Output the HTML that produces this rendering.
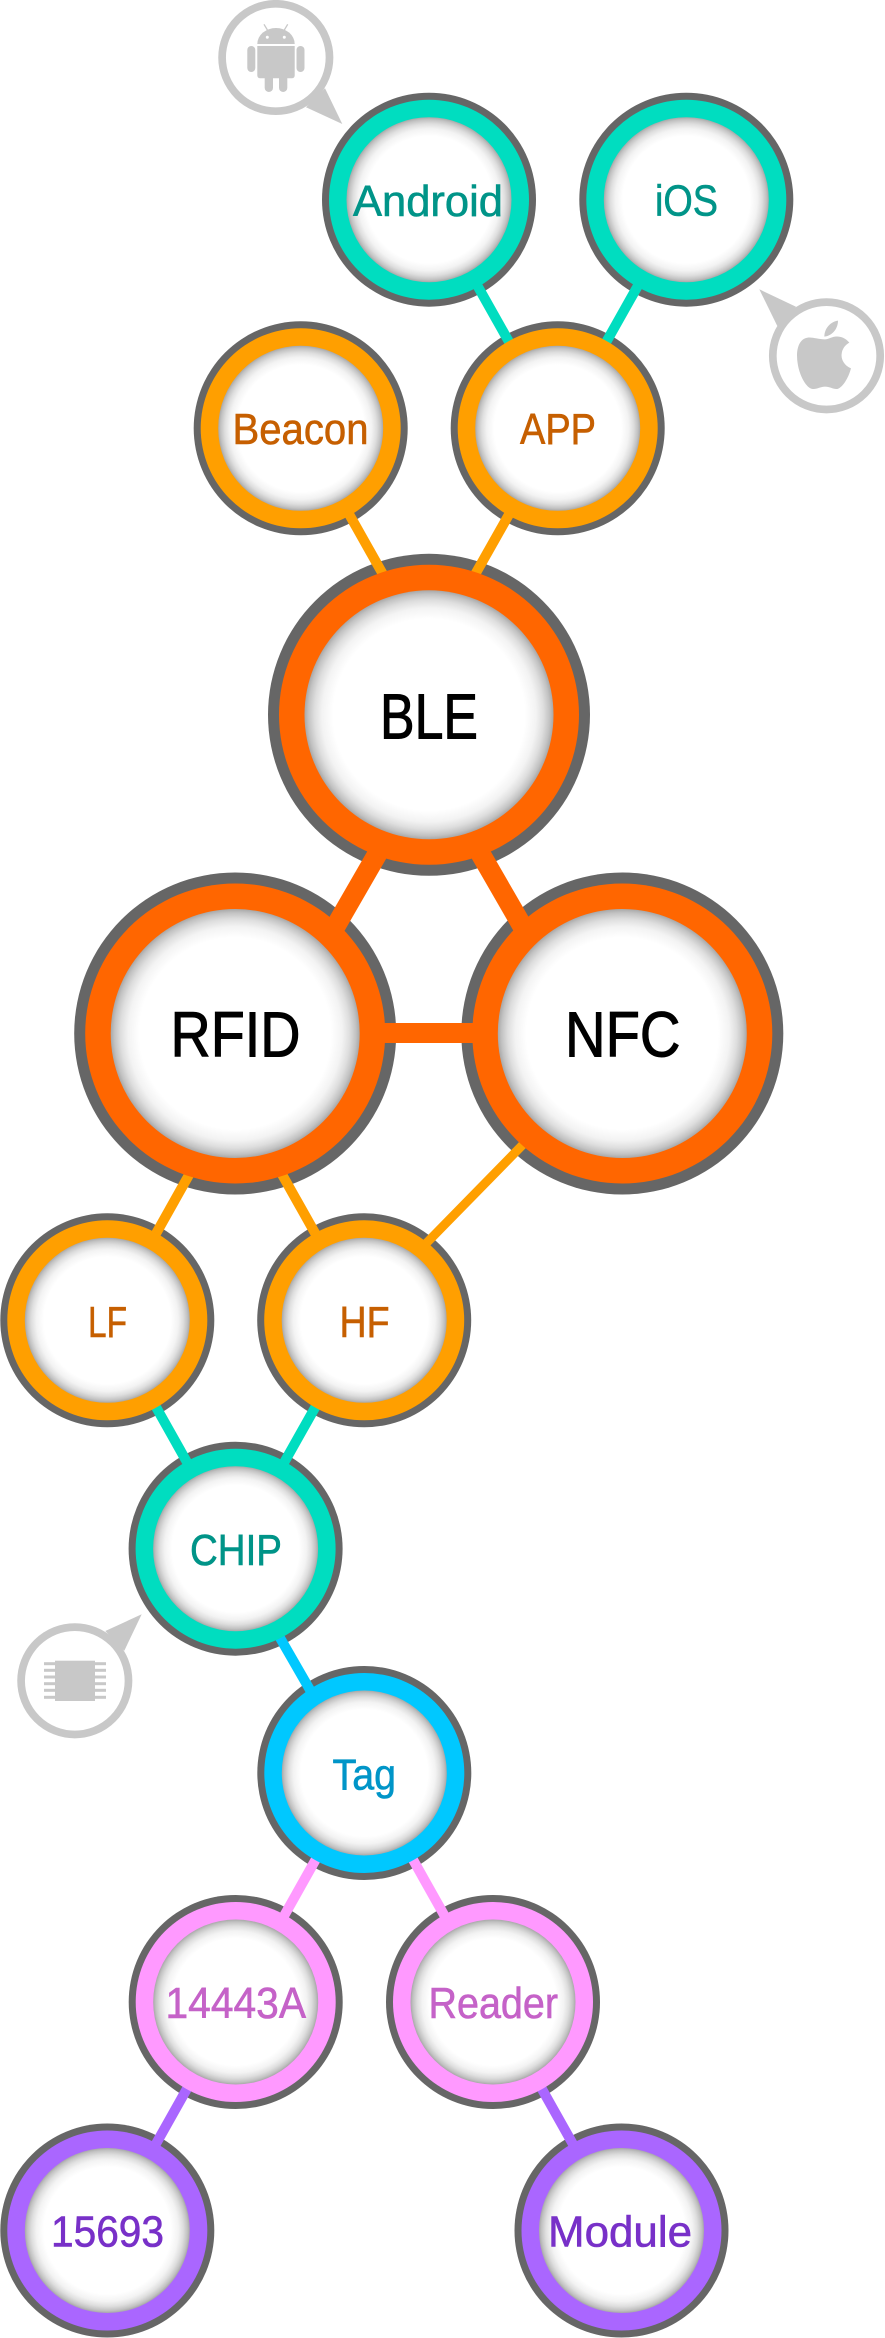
<!DOCTYPE html>
<html>
<head>
<meta charset="utf-8">
<title>Diagram</title>
<style>
html,body{margin:0;padding:0;background:#fff;}
svg{display:block;}
text{font-family:"Liberation Sans",sans-serif;}
.s{font-size:43.5px;stroke-width:.6px;}
.b{font-size:64px;fill:#000;stroke:#000;stroke-width:1px;}
.teal{fill:#009488;stroke:#009488;}
.or{fill:#C65F00;stroke:#C65F00;}
.cy{fill:#0095C8;stroke:#0095C8;}
.pk{fill:#C562C8;stroke:#C562C8;}
.pu{fill:#7830C8;stroke:#7830C8;}
</style>
</head>
<body>
<svg xmlns="http://www.w3.org/2000/svg" width="885" height="2338" viewBox="0 0 885 2338">
<defs>
<radialGradient id="g" cx="50%" cy="50%" r="50%">
<stop offset="0" stop-color="#fff"/>
<stop offset="0.77" stop-color="#fff"/>
<stop offset="0.86" stop-color="#f3f3f3"/>
<stop offset="0.92" stop-color="#dedede"/>
<stop offset="0.97" stop-color="#c2c2c2"/>
<stop offset="1" stop-color="#a8a8a8"/>
</radialGradient>
</defs>
<rect width="885" height="2338" fill="#fff"/>

<!-- outer gray rims -->
<g fill="#666">
<circle cx="429" cy="199.7" r="107"/>
<circle cx="686.3" cy="199.7" r="107"/>
<circle cx="300.7" cy="428.3" r="107"/>
<circle cx="557.7" cy="428.3" r="107"/>
<circle cx="429" cy="714.8" r="161"/>
<circle cx="235.2" cy="1033.5" r="161"/>
<circle cx="622.3" cy="1033.5" r="161"/>
<circle cx="107.3" cy="1320.3" r="107"/>
<circle cx="364.2" cy="1320.3" r="107"/>
<circle cx="235.6" cy="1548.7" r="107"/>
<circle cx="364.3" cy="1773" r="107"/>
<circle cx="235.7" cy="2002" r="107"/>
<circle cx="493" cy="2002" r="107"/>
<circle cx="107.3" cy="2230.5" r="107"/>
<circle cx="621.5" cy="2230.5" r="107"/>
</g>

<!-- connectors -->
<g stroke-width="10" fill="none">
<line x1="429" y1="199.7" x2="557.7" y2="428.3" stroke="#00DDC0"/>
<line x1="686.3" y1="199.7" x2="557.7" y2="428.3" stroke="#00DDC0"/>
<line x1="300.7" y1="428.3" x2="429" y2="656" stroke="#FF9F00"/>
<line x1="557.7" y1="428.3" x2="429" y2="656" stroke="#FF9F00"/>
<line x1="405" y1="1265" x2="545" y2="1122" stroke="#FF9F00" stroke-width="9"/>
<line x1="107.3" y1="1320.3" x2="235.6" y2="1092" stroke="#FF9F00"/>
<line x1="364.2" y1="1320.3" x2="235.6" y2="1092" stroke="#FF9F00"/>
<line x1="107.3" y1="1320.3" x2="235.6" y2="1548.7" stroke="#00DDC0"/>
<line x1="364.2" y1="1320.3" x2="235.6" y2="1548.7" stroke="#00DDC0"/>
<line x1="264" y1="1610" x2="340" y2="1742" stroke="#00C8FF"/>
<line x1="364.3" y1="1773" x2="235.7" y2="2002" stroke="#FF99FF"/>
<line x1="364.3" y1="1773" x2="493" y2="2002" stroke="#FF99FF"/>
<line x1="235.7" y1="2002" x2="107.3" y2="2230.5" stroke="#AA66FF"/>
<line x1="493" y1="2002" x2="621.5" y2="2230.5" stroke="#AA66FF"/>
<g stroke="#FF6600" stroke-width="20">
<line x1="390" y1="832" x2="300" y2="988"/>
<line x1="468" y1="832" x2="558" y2="988"/>
<line x1="235.5" y1="1033" x2="621.7" y2="1033"/>
</g>
</g>

<!-- coloured rings -->
<g fill="#00DDC0">
<circle cx="429" cy="199.7" r="100"/>
<circle cx="686.3" cy="199.7" r="100"/>
<circle cx="235.6" cy="1548.7" r="100"/>
</g>
<g fill="#FF9F00">
<circle cx="300.7" cy="428.3" r="100"/>
<circle cx="557.7" cy="428.3" r="100"/>
<circle cx="107.3" cy="1320.3" r="100"/>
<circle cx="364.2" cy="1320.3" r="100"/>
</g>
<g fill="#FF6600">
<circle cx="429" cy="714.8" r="150"/>
<circle cx="235.2" cy="1033.5" r="150"/>
<circle cx="622.3" cy="1033.5" r="150"/>
</g>
<circle cx="364.3" cy="1773" r="100" fill="#00C8FF"/>
<g fill="#FF99FF">
<circle cx="235.7" cy="2002" r="100"/>
<circle cx="493" cy="2002" r="100"/>
</g>
<g fill="#AA66FF">
<circle cx="107.3" cy="2230.5" r="100"/>
<circle cx="621.5" cy="2230.5" r="100"/>
</g>

<!-- inner discs -->
<g fill="url(#g)">
<circle cx="429" cy="199.7" r="82.5"/>
<circle cx="686.3" cy="199.7" r="82.5"/>
<circle cx="300.7" cy="428.3" r="82.5"/>
<circle cx="557.7" cy="428.3" r="82.5"/>
<circle cx="429" cy="714.8" r="124.5"/>
<circle cx="235.2" cy="1033.5" r="124.5"/>
<circle cx="622.3" cy="1033.5" r="124.5"/>
<circle cx="107.3" cy="1320.3" r="82.5"/>
<circle cx="364.2" cy="1320.3" r="82.5"/>
<circle cx="235.6" cy="1548.7" r="82.5"/>
<circle cx="364.3" cy="1773" r="82.5"/>
<circle cx="235.7" cy="2002" r="82.5"/>
<circle cx="493" cy="2002" r="82.5"/>
<circle cx="107.3" cy="2230.5" r="82.5"/>
<circle cx="621.5" cy="2230.5" r="82.5"/>
</g>

<!-- labels -->
<text class="s teal" x="353" y="216" textLength="150" lengthAdjust="spacingAndGlyphs">Android</text>
<text class="s teal" x="655" y="215.5" textLength="63" lengthAdjust="spacingAndGlyphs">iOS</text>
<text class="s or" x="232.5" y="444" textLength="136" lengthAdjust="spacingAndGlyphs">Beacon</text>
<text class="s or" x="520" y="444" textLength="76" lengthAdjust="spacingAndGlyphs">APP</text>
<text class="b" x="380" y="738.3" textLength="98" lengthAdjust="spacingAndGlyphs">BLE</text>
<text class="b" x="170.5" y="1056.7" textLength="130" lengthAdjust="spacingAndGlyphs">RFID</text>
<text class="b" x="565" y="1056.7" textLength="115.5" lengthAdjust="spacingAndGlyphs">NFC</text>
<text class="s or" x="88" y="1337" textLength="39" lengthAdjust="spacingAndGlyphs">LF</text>
<text class="s or" x="339.5" y="1337" textLength="50" lengthAdjust="spacingAndGlyphs">HF</text>
<text class="s teal" x="190" y="1565" textLength="92" lengthAdjust="spacingAndGlyphs">CHIP</text>
<text class="s cy" x="332.5" y="1789.3" textLength="63.5" lengthAdjust="spacingAndGlyphs">Tag</text>
<text class="s pk" x="165.5" y="2017.8" textLength="140.5" lengthAdjust="spacingAndGlyphs">14443A</text>
<text class="s pk" x="428.5" y="2018" textLength="129.5" lengthAdjust="spacingAndGlyphs">Reader</text>
<text class="s pu" x="51" y="2246.7" textLength="113" lengthAdjust="spacingAndGlyphs">15693</text>
<text class="s pu" x="548" y="2246.7" textLength="144" lengthAdjust="spacingAndGlyphs">Module</text>

<!-- Android callout -->
<g fill="#C8C8C8">
<circle cx="275.8" cy="57.5" r="53.7" fill="none" stroke="#C8C8C8" stroke-width="7.7"/>
<polygon points="325,88.3 342.3,124 306,107.3"/>
<path d="M257.3 44 A18.7 16 0 0 1 294.7 44 Z"/>
<path d="M257.3 46 H294.7 V75.3 Q294.7 78.3 291.7 78.3 H260.3 Q257.3 78.3 257.3 75.3 Z"/>
<rect x="247.3" y="46" width="8" height="26" rx="4"/>
<rect x="296.5" y="46" width="8" height="26" rx="4"/>
<rect x="264.7" y="70" width="8.3" height="22" rx="4.1"/>
<rect x="279" y="70" width="8.3" height="22" rx="4.1"/>
<line x1="264" y1="24.3" x2="268" y2="31" stroke="#C8C8C8" stroke-width="1.3"/>
<line x1="287.7" y1="24.3" x2="283.7" y2="31" stroke="#C8C8C8" stroke-width="1.3"/>
<circle cx="267.3" cy="37.3" r="1.5" fill="#fff"/>
<circle cx="284.3" cy="37.3" r="1.5" fill="#fff"/>
</g>

<!-- Apple callout -->
<g fill="#C8C8C8">
<circle cx="826.5" cy="355.8" r="53.7" fill="none" stroke="#C8C8C8" stroke-width="7.7"/>
<polygon points="759.3,289.3 796,306.7 777.3,326"/>
<g transform="translate(560 80) scale(0.33333)">
<path d="M795 778 C770 778 752 768 735 775 C712 785 708 820 713 850 C718 885 738 925 758 927 C772 928 782 920 795 920 C810 920 818 928 832 927 C848 922 865 895 873 865 C850 855 843 835 845 822 C846 808 855 795 868 788 C855 772 838 768 825 770 C812 772 805 778 795 778 Z"/>
<path d="M793 770 C793 745 812 725 834 722 C834 748 815 768 793 770 Z"/>
</g>
</g>

<!-- Chip callout -->
<g fill="#C8C8C8">
<circle cx="74.8" cy="1680.8" r="53.7" fill="none" stroke="#C8C8C8" stroke-width="7.7"/>
<polygon points="141.7,1614.3 105.3,1631 124.3,1650.7"/>
<rect x="55" y="1660.7" width="40" height="40.3"/>
<rect x="44" y="1662.2" width="62" height="3"/>
<rect x="44" y="1668.8" width="62" height="3"/>
<rect x="44" y="1675.5" width="62" height="3"/>
<rect x="44" y="1682.2" width="62" height="3"/>
<rect x="44" y="1688.8" width="62" height="3"/>
<rect x="44" y="1695.8" width="62" height="3"/>
</g>
</svg>
</body>
</html>
